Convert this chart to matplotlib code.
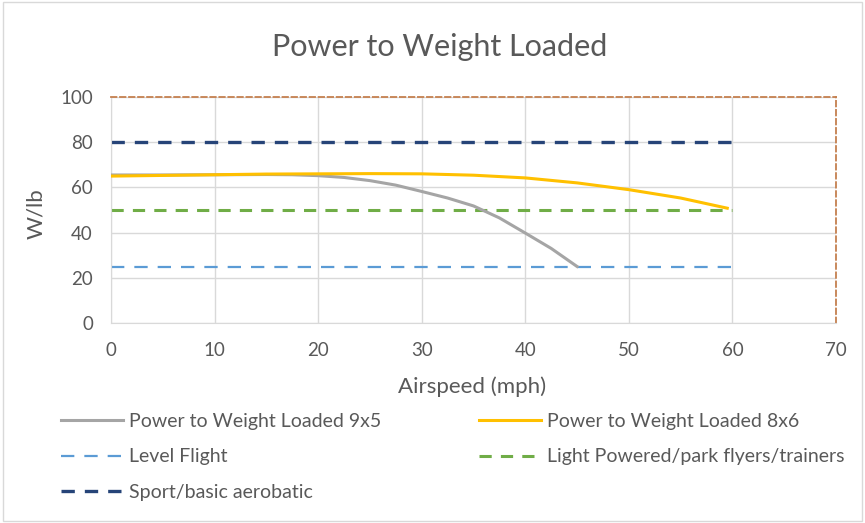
import matplotlib
matplotlib.use("Agg")
import matplotlib.pyplot as plt

plt.rcParams['font.family'] = ['Lato', 'DejaVu Sans']

speed_9x5 = [0, 5, 10, 15, 17.5, 20, 22.5, 25, 27.5, 30, 32.5, 35, 37.5, 40, 42.5, 45]
pw_9x5 = [65.5, 65.5, 65.6, 65.7, 65.6, 65.2, 64.4, 63.0, 61.0, 58.2, 55.3, 51.8, 46.5, 39.8, 33.0, 25.0]
speed_8x6 = [0, 5, 10, 15, 20, 25, 30, 35, 40, 45, 50, 55, 59.5]
pw_8x6 = [65.0, 65.3, 65.6, 65.9, 66.0, 66.1, 66.0, 65.4, 64.2, 62.0, 59.0, 55.3, 50.8]
ref_x = [0, 60]
level_flight = [25, 25]
light_powered = [50, 50]
sport = [80, 80]

x_ticks = [0, 10, 20, 30, 40, 50, 60, 70]
y_ticks = [0, 20, 40, 60, 80, 100]

txt = '#595959'
fig = plt.figure(figsize=(8.65, 5.23), dpi=100)
ax = fig.add_axes([111/865, 1-323/523, (836-111)/865, (323-97)/523])

l1, = ax.plot(speed_9x5, pw_9x5, color='#A5A5A5', lw=2.2, label='Power to Weight Loaded 9x5', zorder=3)
l2, = ax.plot(speed_8x6, pw_8x6, color='#FFC000', lw=2.2, label='Power to Weight Loaded 8x6', zorder=4)
l3, = ax.plot(ref_x, level_flight, color='#5B9BD5', lw=1.6, ls=(0, (6, 4.5)), label='Level Flight', zorder=2)
l4, = ax.plot(ref_x, light_powered, color='#70AD47', lw=2.2, ls=(0, (4, 3)), label='Light Powered/park flyers/trainers', zorder=2)
l5, = ax.plot(ref_x, sport, color='#264478', lw=2.4, ls=(0, (4, 3)), label='Sport/basic aerobatic', zorder=2)

ax.set_xlim(0, 70)
ax.set_ylim(0, 100)
ax.set_xticks(x_ticks)
ax.set_yticks(y_ticks)
ax.grid(True, color='#D9D9D9', lw=1)
ax.set_axisbelow(True)
ax.tick_params(length=0, labelsize=13.5, colors=txt)
ax.tick_params(axis='x', pad=14)
ax.tick_params(axis='y', pad=13)
for s in ['left', 'bottom']:
    ax.spines[s].set_color('#D9D9D9')
for s in ['top', 'right']:
    ax.spines[s].set_color('#C5804F')
    ax.spines[s].set_linestyle((0, (3, 2)))
    ax.spines[s].set_linewidth(1.3)

ax.set_xlabel('Airspeed (mph)', fontsize=16, color=txt)
ax.set_ylabel('W/lb', fontsize=16, color=txt)
ax.xaxis.set_label_coords((472 - 111) / 725, (323 - 376) / 226)
ax.yaxis.set_label_coords((46 - 111) / 725, 0.5 + (210 - 214) / 226)
fig.text(440/865, 1-47/523, 'Power to Weight Loaded', ha='center', va='center', fontsize=22, color=txt)

fig.legend(handles=[l1, l3, l5, l2, l4], ncol=2, loc='upper left',
           bbox_to_anchor=(61/865, 1-413/523), frameon=False, fontsize=14,
           labelcolor=txt, handlelength=3.2, handletextpad=0.3, borderpad=0,
           borderaxespad=0, columnspacing=5.0, labelspacing=0.95)

fig.patches.append(plt.Rectangle((0.003, 0.003), 0.994, 0.994, transform=fig.transFigure,
                                 fill=False, edgecolor='#D9D9D9', lw=1))
fig.savefig('out.png', dpi=100)
